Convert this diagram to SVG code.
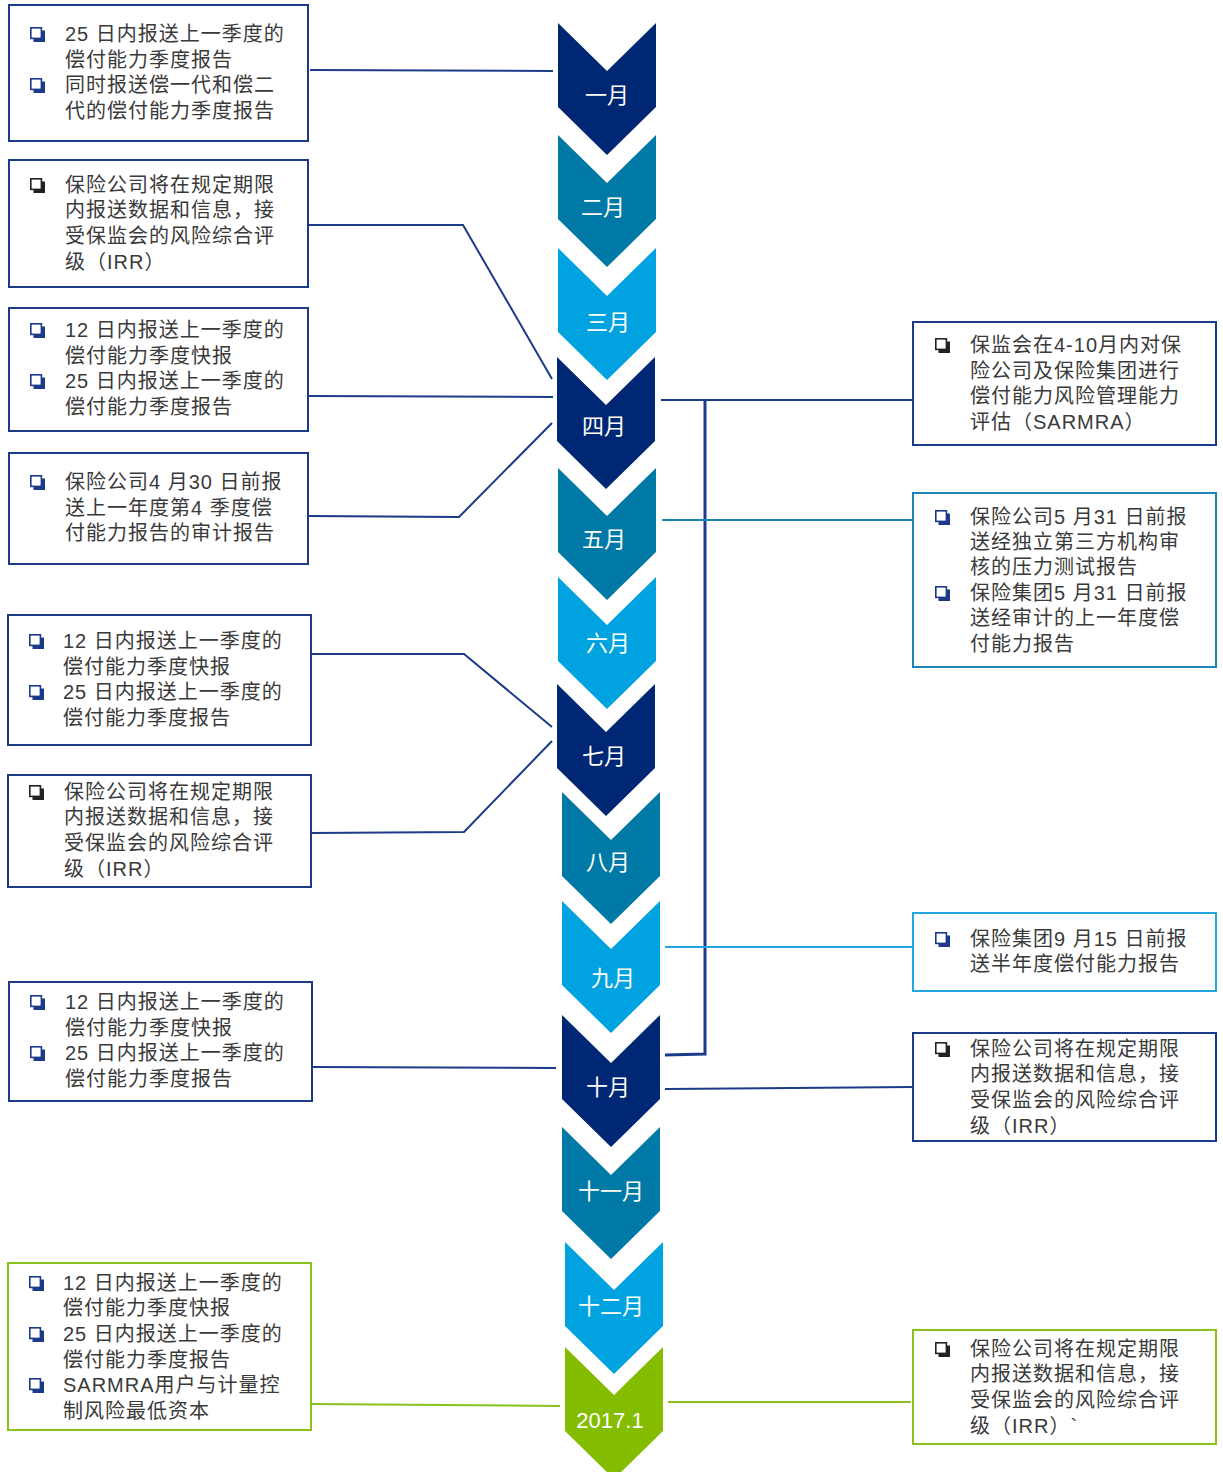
<svg xmlns="http://www.w3.org/2000/svg" xmlns:xlink="http://www.w3.org/1999/xlink" width="1223" height="1472" viewBox="0 0 1223 1472">
<style>
.t{font-family:"Liberation Sans","Noto Sans CJK SC",sans-serif;font-size:20px;letter-spacing:1px;fill:#3a3a3a}
.m{font-family:"Liberation Sans","Noto Sans CJK SC",sans-serif;font-size:22px;fill:#fff;text-anchor:middle}
.bx{fill:#fff;stroke-width:2}
.bn{stroke:#1b3a8a}.bt{stroke:#1b87b2}.bl{stroke:#22a6e0}.bg{stroke:#8cc21c}
.c{fill:none;stroke-width:2}
.cn{stroke:#1b3a8a}.ct{stroke:#1b87b2}.cl{stroke:#22a6e0}.cg{stroke:#8cc21c}
.navy{fill:#002773}.teal{fill:#0079a6}.light{fill:#00a3df}.green{fill:#84bc00}
</style>
<defs>
<symbol id="qn" viewBox="0 0 15 15" width="15" height="15"><rect x="3.5" y="3.5" width="11.5" height="11.5" fill="#1b3a8a"/><rect x="0.8" y="0.8" width="10.6" height="10.6" fill="#fff" stroke="#1b3a8a" stroke-width="1.6"/></symbol>
<symbol id="qk" viewBox="0 0 15 15" width="15" height="15"><rect x="3.5" y="3.5" width="11.5" height="11.5" fill="#222"/><rect x="0.8" y="0.8" width="10.6" height="10.6" fill="#fff" stroke="#222" stroke-width="1.6"/></symbol>
<path id="chev" d="M0 0 L49 48 L98 0 L98 84 L49 132 L0 84 Z"/>
</defs>

<g id="connectors">
<path class="c cn" d="M310 70 L553 71"/>
<path class="c cn" d="M308 225 L463 225 L552 379"/>
<path class="c cn" d="M308 396 L553 397"/>
<path class="c cn" d="M308 516 L459 517 L552 423"/>
<path class="c cn" d="M311 654 L464 654 L552 727"/>
<path class="c cn" d="M311 833 L464 832 L552 741"/>
<path class="c cn" d="M312 1067 L556 1068"/>
<path class="c cn" d="M661 400 L913 400"/>
<path class="c cn" style="stroke-width:3" d="M665 1055 L705 1054 L705 400"/>
<path class="c cn" d="M665 1089 L913 1087"/>
<path class="c ct" d="M662 520 L913 520"/>
<path class="c cl" d="M665 947 L913 947"/>
<path class="c cg" d="M311 1404 L560 1406"/>
<path class="c cg" d="M668 1402 L911 1402"/>
</g>

<g id="m01"><use href="#chev" x="558" y="23" class="navy"/><text class="m" x="607" y="103">一月</text></g>
<g id="m02"><use href="#chev" x="558" y="135" class="teal"/><text class="m" x="603" y="215">二月</text></g>
<g id="m03"><use href="#chev" x="558" y="248" class="light"/><text class="m" x="608" y="330">三月</text></g>
<g id="m04"><use href="#chev" x="557" y="357" class="navy"/><text class="m" x="604" y="434">四月</text></g>
<g id="m05"><use href="#chev" x="558" y="468" class="teal"/><text class="m" x="604" y="547">五月</text></g>
<g id="m06"><use href="#chev" x="558" y="577" class="light"/><text class="m" x="608" y="651">六月</text></g>
<g id="m07"><use href="#chev" x="557" y="684" class="navy"/><text class="m" x="604" y="764">七月</text></g>
<g id="m08"><use href="#chev" x="562" y="792" class="teal"/><text class="m" x="608" y="870">八月</text></g>
<g id="m09"><use href="#chev" x="562" y="901" class="light"/><text class="m" x="613" y="986">九月</text></g>
<g id="m10"><use href="#chev" x="562" y="1015" class="navy"/><text class="m" x="608" y="1095">十月</text></g>
<g id="m11"><use href="#chev" x="562" y="1127" class="teal"/><text class="m" x="611" y="1199">十一月</text></g>
<g id="m12"><use href="#chev" x="565" y="1242" class="light"/><text class="m" x="611" y="1314">十二月</text></g>
<g id="m13"><use href="#chev" x="565" y="1347" class="green"/><text class="m" x="610" y="1428">2017.1</text></g>

<g id="L1"><rect class="bx bn" x="9" y="5" width="299" height="136"/>
<use href="#qn" x="30" y="27"/><use href="#qn" x="30" y="78"/>
<text class="t" x="65" y="41">25 日内报送上一季度的</text><text class="t" x="65" y="67">偿付能力季度报告</text>
<text class="t" x="65" y="92">同时报送偿一代和偿二</text><text class="t" x="65" y="118">代的偿付能力季度报告</text></g>

<g id="L2"><rect class="bx bn" x="9" y="160" width="299" height="127"/>
<use href="#qk" x="30" y="178"/>
<text class="t" x="65" y="192">保险公司将在规定期限</text><text class="t" x="65" y="217">内报送数据和信息，接</text>
<text class="t" x="65" y="243">受保监会的风险综合评</text><text class="t" x="65" y="269">级（IRR）</text></g>

<g id="L3"><rect class="bx bn" x="9" y="308" width="299" height="123"/>
<use href="#qn" x="30" y="323"/><use href="#qn" x="30" y="374"/>
<text class="t" x="65" y="337">12 日内报送上一季度的</text><text class="t" x="65" y="363">偿付能力季度快报</text>
<text class="t" x="65" y="388">25 日内报送上一季度的</text><text class="t" x="65" y="414">偿付能力季度报告</text></g>

<g id="L4"><rect class="bx bn" x="9" y="453" width="299" height="111"/>
<use href="#qn" x="30" y="475"/>
<text class="t" x="65" y="489">保险公司4 月30 日前报</text><text class="t" x="65" y="515">送上一年度第4 季度偿</text>
<text class="t" x="65" y="540">付能力报告的审计报告</text></g>

<g id="L5"><rect class="bx bn" x="8" y="615" width="303" height="130"/>
<use href="#qn" x="29" y="634"/><use href="#qn" x="29" y="685"/>
<text class="t" x="63" y="648">12 日内报送上一季度的</text><text class="t" x="63" y="674">偿付能力季度快报</text>
<text class="t" x="63" y="699">25 日内报送上一季度的</text><text class="t" x="63" y="725">偿付能力季度报告</text></g>

<g id="L6"><rect class="bx bn" x="8" y="775" width="303" height="112"/>
<use href="#qk" x="29" y="785"/>
<text class="t" x="64" y="799">保险公司将在规定期限</text><text class="t" x="64" y="824">内报送数据和信息，接</text>
<text class="t" x="64" y="850">受保监会的风险综合评</text><text class="t" x="64" y="876">级（IRR）</text></g>

<g id="L7"><rect class="bx bn" x="9" y="982" width="303" height="119"/>
<use href="#qn" x="30" y="995"/><use href="#qn" x="30" y="1046"/>
<text class="t" x="65" y="1009">12 日内报送上一季度的</text><text class="t" x="65" y="1035">偿付能力季度快报</text>
<text class="t" x="65" y="1060">25 日内报送上一季度的</text><text class="t" x="65" y="1086">偿付能力季度报告</text></g>

<g id="L8"><rect class="bx bg" x="8" y="1263" width="303" height="167"/>
<use href="#qn" x="29" y="1276"/><use href="#qn" x="29" y="1327"/><use href="#qn" x="29" y="1378"/>
<text class="t" x="63" y="1290">12 日内报送上一季度的</text><text class="t" x="63" y="1315">偿付能力季度快报</text>
<text class="t" x="63" y="1341">25 日内报送上一季度的</text><text class="t" x="63" y="1367">偿付能力季度报告</text>
<text class="t" x="63" y="1392">SARMRA用户与计量控</text><text class="t" x="63" y="1418">制风险最低资本</text></g>

<g id="R1"><rect class="bx bn" x="913" y="322" width="303" height="123"/>
<use href="#qk" x="935" y="338"/>
<text class="t" x="970" y="352">保监会在4-10月内对保</text><text class="t" x="970" y="378">险公司及保险集团进行</text>
<text class="t" x="970" y="403">偿付能力风险管理能力</text><text class="t" x="970" y="429">评估（SARMRA）</text></g>

<g id="R2"><rect class="bx bt" x="913" y="493" width="303" height="174"/>
<use href="#qn" x="935" y="510"/><use href="#qn" x="935" y="586"/>
<text class="t" x="970" y="524">保险公司5 月31 日前报</text><text class="t" x="970" y="549">送经独立第三方机构审</text>
<text class="t" x="970" y="574">核的压力测试报告</text><text class="t" x="970" y="600">保险集团5 月31 日前报</text>
<text class="t" x="970" y="625">送经审计的上一年度偿</text><text class="t" x="970" y="651">付能力报告</text></g>

<g id="R3"><rect class="bx bl" x="913" y="913" width="303" height="78"/>
<use href="#qn" x="935" y="932"/>
<text class="t" x="970" y="946">保险集团9 月15 日前报</text><text class="t" x="970" y="971">送半年度偿付能力报告</text></g>

<g id="R4"><rect class="bx bn" x="913" y="1033" width="303" height="108"/>
<use href="#qk" x="935" y="1042"/>
<text class="t" x="970" y="1056">保险公司将在规定期限</text><text class="t" x="970" y="1081">内报送数据和信息，接</text>
<text class="t" x="970" y="1107">受保监会的风险综合评</text><text class="t" x="970" y="1133">级（IRR）</text></g>

<g id="R5"><rect class="bx bg" x="913" y="1330" width="303" height="114"/>
<use href="#qk" x="935" y="1342"/>
<text class="t" x="970" y="1356">保险公司将在规定期限</text><text class="t" x="970" y="1381">内报送数据和信息，接</text>
<text class="t" x="970" y="1407">受保监会的风险综合评</text><text class="t" x="970" y="1433">级（IRR）`</text></g>
</svg>
